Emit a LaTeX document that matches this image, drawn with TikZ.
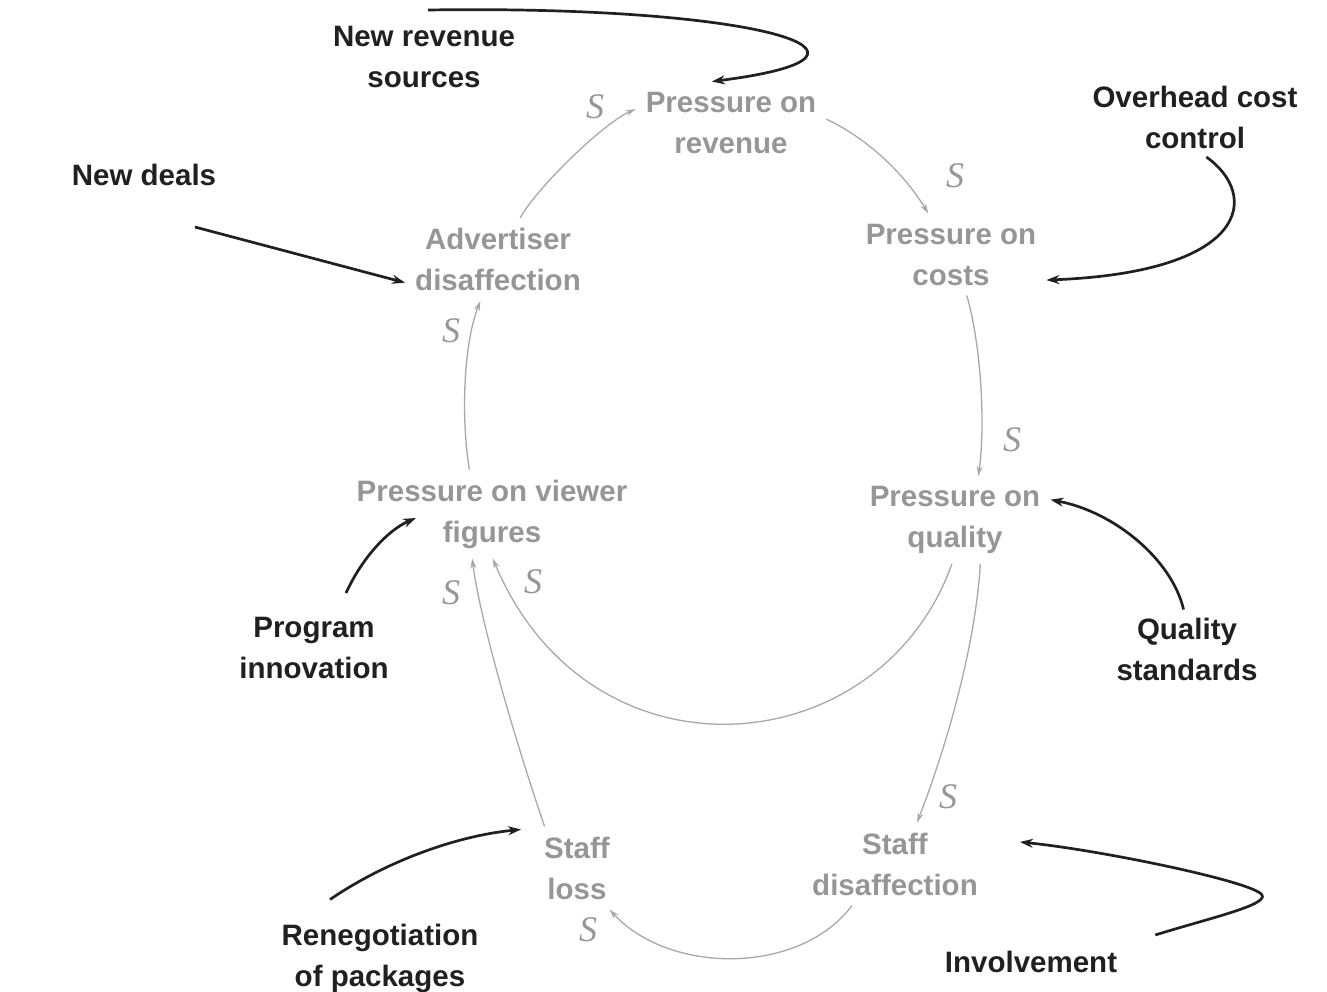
\documentclass[tikz,border=0pt]{standalone}
\usepackage{fontspec}
\setmainfont{Liberation Sans}
\newfontfamily\polarityfont{Liberation Serif}
\usetikzlibrary{arrows.meta,calc}
\definecolor{labelgray}{RGB}{150,150,150}
\definecolor{linkgray}{RGB}{168,168,168}
\definecolor{ink}{RGB}{32,32,32}
\tikzset{
  var/.style={font=\fontsize{29.5}{41}\selectfont\bfseries, text=labelgray, align=center, inner sep=10pt},
  lever/.style={font=\fontsize{29.5}{41}\selectfont\bfseries, text=ink, align=center, inner sep=8pt},
  pol/.style={font=\polarityfont\itshape\fontsize{36}{36}\selectfont, text=labelgray, inner sep=0pt},
  link/.style={draw=linkgray, line width=1.3pt, -{Stealth[length=10pt,width=6pt]}},
  push/.style={draw=ink, line width=2.7pt, -{Stealth[length=13pt,width=9pt]}},
}
\begin{document}
\begin{tikzpicture}[x=1pt,y=-1pt]
\useasboundingbox (0,0) rectangle (1327,992);

% loop variables
\node[var] (revP)   at (731,122.5) {Pressure on\\revenue};
\node[var] (costP)  at (951,254.5) {Pressure on\\costs};
\node[var] (qualP)  at (955,520)   {Pressure on\\quality};
\node[var] (staffD) at (895,864)   {Staff\\disaffection};
\node[var] (staffL) at (577,868)   {Staff\\loss};
\node[var] (viewP)  at (492,514)   {Pressure on viewer\\figures};
\node[var] (advD)   at (498,259.5) {Advertiser\\disaffection};

% policy levers
\node[lever] (newRev)   at (424,57)    {New revenue\\sources};
\node[lever] (overhead) at (1195,117.5) {Overhead cost\\control};
\node[lever] (deals)    at (144,175)   {New deals};
\node[lever] (innov)    at (314,648)   {Program\\innovation};
\node[lever] (qstd)     at (1187,649)  {Quality\\standards};
\node[lever] (reneg)    at (380,958)   {Renegotiation\\of packages};
\node[lever] (involve)  at (1031,962)  {Involvement};

% polarity marks
\node[pol] (s1) at (595,107)  {S};
\node[pol] (s2) at (955,176)  {S};
\node[pol] (s3) at (451,331)  {S};
\node[pol] (s4) at (1012,440) {S};
\node[pol] (s5) at (451,593)  {S};
\node[pol] (s6) at (533,582)  {S};
\node[pol] (s7) at (948,797)  {S};
\node[pol] (s8) at (588,930)  {S};

% causal links of the loop
\draw[link] (advD.62) .. controls (536,189) and (602,124) .. (revP.172);
\draw[link] (revP.2) .. controls (870,140) and (905,175) .. (costP.119);
\draw[link] (costP.-69) .. controls (980,340) and (986,420) .. (qualP.62);
\draw[link] (qualP.-60) .. controls (975,650) and (945,750) .. (staffD.62);
\draw[link] (staffD.224) .. controls (800,975) and (670,975) .. (staffL.-52);
\draw[link] (staffL.128) .. controls (515,740) and (480,620) .. (viewP.246);
\draw[link] (qualP.266) .. controls (880,765) and (590,790) .. (viewP.271);
\draw[link] (viewP.117) .. controls (460,410) and (465,340) .. (advD.247);

% levers acting on the loop
\draw[push] ($(newRev.north)+(4,-8)$) .. controls (760,5) and (920,55) .. (revP.115);
\draw[push] (overhead.-74) .. controls (1260,195) and (1250,272) .. (costP.-15);
\draw[push] ($(deals.south)+(51,33)$) -- (advD.194);
\draw[push] ($(innov.north)+(32,-16)$) .. controls (362,558) and (388,530) .. ($(viewP)+(-76,4)$);
\draw[push] (qstd.95) .. controls (1172,560) and (1115,512) .. (qualP.12);
\draw[push] ($(reneg.north)+(-50,-16)$) .. controls (385,862) and (455,836) .. ($(staffL.north west)+(-13,3)$);
\draw[push] ($(involve.north east)+(30,-8)$) .. controls (1210,918) and (1268,905) .. (1262,895)
  .. controls (1255,882) and (1100,850) .. ($(staffD.east)+(32,-22)$);
\end{tikzpicture}
\end{document}
